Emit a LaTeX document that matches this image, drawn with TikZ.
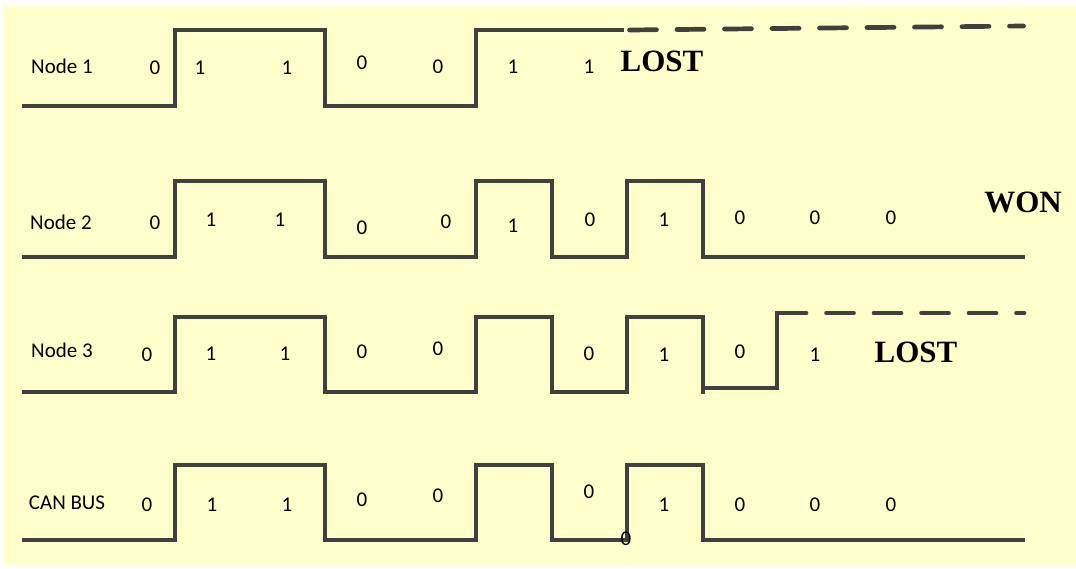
\documentclass[tikz,border=0pt]{standalone}
\usepackage{fontspec}
\setmainfont{Carlito}
\newfontfamily\boldserif{Liberation Serif}
\definecolor{bgyellow}{HTML}{FFFFCC}
\definecolor{wave}{HTML}{404040}
\begin{document}
\begin{tikzpicture}[x=1pt,y=-1pt,
  signal/.style={draw=wave,line width=3.3pt,line join=miter},
  lostline/.style={draw=wave,line width=4.7pt,line cap=round,dash pattern=on 27pt off 20.5pt},
  lbl/.style={inner sep=0pt,font=\fontsize{21}{25}\selectfont},
  verdict/.style={inner sep=0pt,font=\boldserif\bfseries\fontsize{31}{36}\selectfont}]
\useasboundingbox (0,0) rectangle (1076,568);
\fill[bgyellow] (3,6) rectangle (1076,565);
% Node 1
\draw[signal] (22,106) -- (175,106) -- (175,30) -- (325,30) -- (325,106) -- (476,106) -- (476,30) -- (624,30);
\draw[lostline] (629.5,30) -- (1023.5,26);
% Node 2
\draw[signal] (22,257) -- (175,257) -- (175,181) -- (325,181) -- (325,257) -- (476,257) -- (476,181) -- (552,181) -- (552,257) -- (627,257) -- (627,181) -- (703,181) -- (703,257) -- (1025,257);
% Node 3
\draw[signal] (22,392) -- (175,392) -- (175,317) -- (325,317) -- (325,392) -- (476,392) -- (476,317) -- (552,317) -- (552,392) -- (627,392) -- (627,317) -- (703,317) -- (703,393.5);
\draw[signal] (703,388) -- (777,388) -- (777,313) -- (781,313);
\draw[lostline] (779,313) -- (1024,313);
% CAN BUS
\draw[signal] (22,540) -- (175,540) -- (175,465) -- (325,465) -- (325,540) -- (476,540) -- (476,465) -- (552,465) -- (552,540) -- (627,540) -- (627,465) -- (703,465) -- (703,540) -- (1025,540);
% labels row 1
\node[lbl] (n1) at (62,66) {Node 1};
\node[lbl] (a1) at (155,68) {0};
\node[lbl] (a2) at (200,68) {1};
\node[lbl] (a3) at (287,68) {1};
\node[lbl] (a4) at (362,63) {0};
\node[lbl] (a5) at (438,67) {0};
\node[lbl] (a6) at (513,67) {1};
\node[lbl] (a7) at (589,67) {1};
\node[verdict] (lost1) at (662,61) {LOST};
% labels row 2
\node[lbl] (n2) at (61,222) {Node 2};
\node[lbl] (b1) at (155,223) {0};
\node[lbl] (b2) at (211,220) {1};
\node[lbl] (b3) at (280,220) {1};
\node[lbl] (b4) at (362,228) {0};
\node[lbl] (b5) at (446,222) {0};
\node[lbl] (b6) at (513,226) {1};
\node[lbl] (b7) at (590,220) {0};
\node[lbl] (b8) at (664,220) {1};
\node[lbl] (b9) at (740,218) {0};
\node[lbl] (b10) at (815,218) {0};
\node[lbl] (b11) at (891,218) {0};
\node[verdict] (won) at (1023,202) {WON};
% labels row 3
\node[lbl] (n3) at (62,350) {Node 3};
\node[lbl] (c1) at (147,355) {0};
\node[lbl] (c2) at (211,354) {1};
\node[lbl] (c3) at (285,354) {1};
\node[lbl] (c4) at (362,352) {0};
\node[lbl] (c5) at (438,349) {0};
\node[lbl] (c6) at (589,354) {0};
\node[lbl] (c7) at (664,355) {1};
\node[lbl] (c8) at (740,352) {0};
\node[lbl] (c9) at (815,355) {1};
\node[verdict] (lost3) at (916,352) {LOST};
% labels row 4
\node[lbl] (n4) at (67,503) {CAN BUS};
\node[lbl] (d1) at (147,505) {0};
\node[lbl] (d2) at (212,505) {1};
\node[lbl] (d3) at (287,505) {1};
\node[lbl] (d4) at (362,500) {0};
\node[lbl] (d5) at (438,496) {0};
\node[lbl] (d6) at (589,492) {0};
\node[lbl] (d7) at (626,539) {0};
\node[lbl] (d8) at (664,505) {1};
\node[lbl] (d9) at (740,505) {0};
\node[lbl] (d10) at (815,505) {0};
\node[lbl] (d11) at (891,505) {0};
\end{tikzpicture}
\end{document}
